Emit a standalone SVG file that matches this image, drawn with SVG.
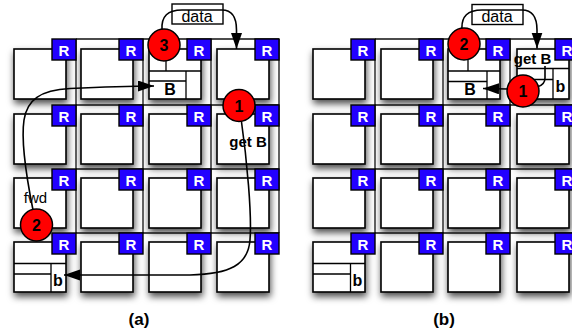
<svg xmlns="http://www.w3.org/2000/svg" width="572" height="335" viewBox="0 0 572 335">
<style>
.tile{fill:#fff;stroke:#000;stroke-width:1.6;filter:url(#sh)}
.mesh{fill:none;stroke:#111;stroke-width:1.3}
.rt{fill:#2200ff;stroke:#000;stroke-width:1.4}
.rl{font-family:"Liberation Sans",Arial,sans-serif;font-weight:bold;font-size:15px;fill:#fff;text-anchor:middle}
.in{fill:none;stroke:#000;stroke-width:1.3}
.bt{font-family:"Liberation Sans",Arial,sans-serif;font-weight:bold;font-size:16px;fill:#000;text-anchor:middle}
.gb{font-family:"Liberation Sans",Arial,sans-serif;font-weight:bold;font-size:15px;fill:#000;text-anchor:middle}
.nt{font-family:"Liberation Sans",Arial,sans-serif;font-size:16px;fill:#000;text-anchor:middle}
.fw{font-family:"Liberation Sans",Arial,sans-serif;font-size:15px;fill:#000;text-anchor:middle}
.db{fill:#fff;stroke:#000;stroke-width:1.4}
.con{fill:none;stroke:#000;stroke-width:1.6}
.arr{marker-end:url(#ah)}
.cir{fill:#ff0000;stroke:#000;stroke-width:1.5}
.ct{font-family:"Liberation Sans",Arial,sans-serif;font-weight:bold;font-size:16px;fill:#000;text-anchor:middle}
.lab{font-family:"Liberation Sans",Arial,sans-serif;font-weight:bold;font-size:17px;fill:#000;text-anchor:middle}
</style>
<defs>
<filter id="sh" x="-30%" y="-30%" width="160%" height="170%">
<feDropShadow dx="1" dy="4" stdDeviation="3.5" flood-color="#000" flood-opacity="0.7"/>
</filter>
<marker id="ah" markerUnits="userSpaceOnUse" markerWidth="17" markerHeight="12" refX="16" refY="5.5" orient="auto">
<path d="M0,0 L16,5.5 L0,11 z" fill="#000"/>
</marker>
</defs>
<rect width="572" height="335" fill="#fff"/>

<g id="tiles-a">
<rect id="a-t00" class="tile" x="14" y="49" width="52" height="50"/>
<rect id="a-t01" class="tile" x="81" y="49" width="52" height="50"/>
<rect id="a-t02" class="tile" x="149" y="49" width="52" height="50"/>
<rect id="a-t03" class="tile" x="217" y="49" width="52" height="50"/>
<rect id="a-t10" class="tile" x="14" y="114" width="52" height="50"/>
<rect id="a-t11" class="tile" x="81" y="114" width="52" height="50"/>
<rect id="a-t12" class="tile" x="149" y="114" width="52" height="50"/>
<rect id="a-t13" class="tile" x="217" y="114" width="52" height="50"/>
<rect id="a-t20" class="tile" x="14" y="178" width="52" height="50"/>
<rect id="a-t21" class="tile" x="81" y="178" width="52" height="50"/>
<rect id="a-t22" class="tile" x="149" y="178" width="52" height="50"/>
<rect id="a-t23" class="tile" x="217" y="178" width="52" height="50"/>
<rect id="a-t30" class="tile" x="14" y="242" width="52" height="50"/>
<rect id="a-t31" class="tile" x="81" y="242" width="52" height="50"/>
<rect id="a-t32" class="tile" x="149" y="242" width="52" height="50"/>
<rect id="a-t33" class="tile" x="217" y="242" width="52" height="50"/>
</g>
<g id="tiles-b">
<rect id="b-t00" class="tile" x="313" y="49" width="52" height="50"/>
<rect id="b-t01" class="tile" x="381" y="49" width="52" height="50"/>
<rect id="b-t02" class="tile" x="448" y="49" width="52" height="50"/>
<rect id="b-t03" class="tile" x="517" y="49" width="52" height="50"/>
<rect id="b-t10" class="tile" x="313" y="114" width="52" height="50"/>
<rect id="b-t11" class="tile" x="381" y="114" width="52" height="50"/>
<rect id="b-t12" class="tile" x="448" y="114" width="52" height="50"/>
<rect id="b-t13" class="tile" x="517" y="114" width="52" height="50"/>
<rect id="b-t20" class="tile" x="313" y="178" width="52" height="50"/>
<rect id="b-t21" class="tile" x="381" y="178" width="52" height="50"/>
<rect id="b-t22" class="tile" x="448" y="178" width="52" height="50"/>
<rect id="b-t23" class="tile" x="517" y="178" width="52" height="50"/>
<rect id="b-t30" class="tile" x="313" y="242" width="52" height="50"/>
<rect id="b-t31" class="tile" x="381" y="242" width="52" height="50"/>
<rect id="b-t32" class="tile" x="448" y="242" width="52" height="50"/>
<rect id="b-t33" class="tile" x="517" y="242" width="52" height="50"/>
</g>

<g id="mesh">
<path class="mesh" d="M76 39V233M143 39V233M211 39V233M279 39V233M76 39H279M76 105H279M76 169H279M76 233H279"/>
<path class="mesh" d="M375 39V233M443 39V233M510 39V233M375 39H572M375 105H572M375 169H572M375 233H572"/>
</g>

<g id="routers-a">
<g id="a-r00"><rect class="rt" x="52" y="39" width="24" height="21"/><text class="rl" x="64" y="55.5">R</text></g>
<g id="a-r01"><rect class="rt" x="119" y="39" width="24" height="21"/><text class="rl" x="131" y="55.5">R</text></g>
<g id="a-r02"><rect class="rt" x="187" y="39" width="24" height="21"/><text class="rl" x="199" y="55.5">R</text></g>
<g id="a-r03"><rect class="rt" x="255" y="39" width="24" height="21"/><text class="rl" x="267" y="55.5">R</text></g>
<g id="a-r10"><rect class="rt" x="52" y="105" width="24" height="21"/><text class="rl" x="64" y="121.5">R</text></g>
<g id="a-r11"><rect class="rt" x="119" y="105" width="24" height="21"/><text class="rl" x="131" y="121.5">R</text></g>
<g id="a-r12"><rect class="rt" x="187" y="105" width="24" height="21"/><text class="rl" x="199" y="121.5">R</text></g>
<g id="a-r13"><rect class="rt" x="255" y="105" width="24" height="21"/><text class="rl" x="267" y="121.5">R</text></g>
<g id="a-r20"><rect class="rt" x="52" y="169" width="24" height="21"/><text class="rl" x="64" y="185.5">R</text></g>
<g id="a-r21"><rect class="rt" x="119" y="169" width="24" height="21"/><text class="rl" x="131" y="185.5">R</text></g>
<g id="a-r22"><rect class="rt" x="187" y="169" width="24" height="21"/><text class="rl" x="199" y="185.5">R</text></g>
<g id="a-r23"><rect class="rt" x="255" y="169" width="24" height="21"/><text class="rl" x="267" y="185.5">R</text></g>
<g id="a-r30"><rect class="rt" x="52" y="233" width="24" height="21"/><text class="rl" x="64" y="249.5">R</text></g>
<g id="a-r31"><rect class="rt" x="119" y="233" width="24" height="21"/><text class="rl" x="131" y="249.5">R</text></g>
<g id="a-r32"><rect class="rt" x="187" y="233" width="24" height="21"/><text class="rl" x="199" y="249.5">R</text></g>
<g id="a-r33"><rect class="rt" x="255" y="233" width="24" height="21"/><text class="rl" x="267" y="249.5">R</text></g>
</g>
<g id="routers-b">
<g id="b-r00"><rect class="rt" x="351" y="39" width="24" height="21"/><text class="rl" x="363" y="55.5">R</text></g>
<g id="b-r01"><rect class="rt" x="419" y="39" width="24" height="21"/><text class="rl" x="431" y="55.5">R</text></g>
<g id="b-r02"><rect class="rt" x="486" y="39" width="24" height="21"/><text class="rl" x="498" y="55.5">R</text></g>
<g id="b-r03"><rect class="rt" x="555" y="39" width="24" height="21"/><text class="rl" x="567" y="55.5">R</text></g>
<g id="b-r10"><rect class="rt" x="351" y="105" width="24" height="21"/><text class="rl" x="363" y="121.5">R</text></g>
<g id="b-r11"><rect class="rt" x="419" y="105" width="24" height="21"/><text class="rl" x="431" y="121.5">R</text></g>
<g id="b-r12"><rect class="rt" x="486" y="105" width="24" height="21"/><text class="rl" x="498" y="121.5">R</text></g>
<g id="b-r13"><rect class="rt" x="555" y="105" width="24" height="21"/><text class="rl" x="567" y="121.5">R</text></g>
<g id="b-r20"><rect class="rt" x="351" y="169" width="24" height="21"/><text class="rl" x="363" y="185.5">R</text></g>
<g id="b-r21"><rect class="rt" x="419" y="169" width="24" height="21"/><text class="rl" x="431" y="185.5">R</text></g>
<g id="b-r22"><rect class="rt" x="486" y="169" width="24" height="21"/><text class="rl" x="498" y="185.5">R</text></g>
<g id="b-r23"><rect class="rt" x="555" y="169" width="24" height="21"/><text class="rl" x="567" y="185.5">R</text></g>
<g id="b-r30"><rect class="rt" x="351" y="233" width="24" height="21"/><text class="rl" x="363" y="249.5">R</text></g>
<g id="b-r31"><rect class="rt" x="419" y="233" width="24" height="21"/><text class="rl" x="431" y="249.5">R</text></g>
<g id="b-r32"><rect class="rt" x="486" y="233" width="24" height="21"/><text class="rl" x="498" y="249.5">R</text></g>
<g id="b-r33"><rect class="rt" x="555" y="233" width="24" height="21"/><text class="rl" x="567" y="249.5">R</text></g>
</g>

<g id="tile-contents">
<g id="a-home-B"><path class="in" d="M166 60V71M149 71H201M149 81H186M186 71V99"/><text class="bt" x="170" y="95">B</text></g>
<g id="a-home-b"><path class="in" d="M14 263.5H66M14 274H51M51 263.5V292"/><text class="bt" x="58" y="285.5">b</text></g>
<g id="a-getB"><text class="gb" x="248" y="147">get B</text></g>
<g id="a-fwd"><text class="fw" x="35.5" y="203">fwd</text></g>
<g id="b-home-B"><path class="in" d="M468 60V71M448 71H500M448 81.5H487M487 71V99"/><text class="bt" x="470" y="95">B</text></g>
<g id="b-home-b"><path class="in" d="M313 263.5H365M313 274H350.5M350.5 263.5V292"/><text class="bt" x="357.5" y="285.5">b</text></g>
<g id="b-getB"><text class="gb" x="532.5" y="63.5">get B</text><path class="in" d="M517 68.5H569M553 68.5V99M517 79.5H553"/><text class="bt" x="560.5" y="92">b</text></g>
</g>

<g id="data-a"><rect class="db" x="172" y="4" width="51" height="20"/><text class="nt" x="197" y="22">data</text></g>
<g id="data-b"><rect class="db" x="472" y="4.5" width="51" height="20"/><text class="nt" x="497" y="22">data</text></g>

<g id="connectors">
<path class="con arr" d="M162 30C161 16 168 10 182 10L222 10C232 10 236.5 17 236.5 30L236.5 49"/>
<path class="con arr" d="M33 210C26 175 21 140 24 120C27 100 40 90 70 88.5C100 87 130 86 154 86"/>
<path class="con arr" d="M241 118C247 160 252 215 250 240C248 265 230 274 190 275L64 275"/>
<path class="con arr" d="M462 30C461 16 468 10 482 10L522 10C532 10 537 17 537 30L537 48.5"/>
<path class="con arr" d="M508 89L483 88.5"/>
<path class="con" d="M545 66L545 78Q545 85 537 87"/>
</g>

<g id="steps">
<g id="a-s3"><circle class="cir" cx="164" cy="45" r="16"/><text class="ct" x="164" y="51">3</text></g>
<g id="a-s1"><circle class="cir" cx="239" cy="105.5" r="16"/><text class="ct" x="239" y="111.5">1</text></g>
<g id="a-s2"><circle class="cir" cx="36.5" cy="225" r="16"/><text class="ct" x="36.5" y="231">2</text></g>
<g id="b-s2"><circle class="cir" cx="464" cy="44" r="16"/><text class="ct" x="464" y="50">2</text></g>
<g id="b-s1"><circle class="cir" cx="523" cy="91" r="16"/><text class="ct" x="523" y="97">1</text></g>
</g>

<g id="labels">
<text class="lab" x="139" y="325">(a)</text>
<text class="lab" x="444" y="325">(b)</text>
</g>
</svg>
